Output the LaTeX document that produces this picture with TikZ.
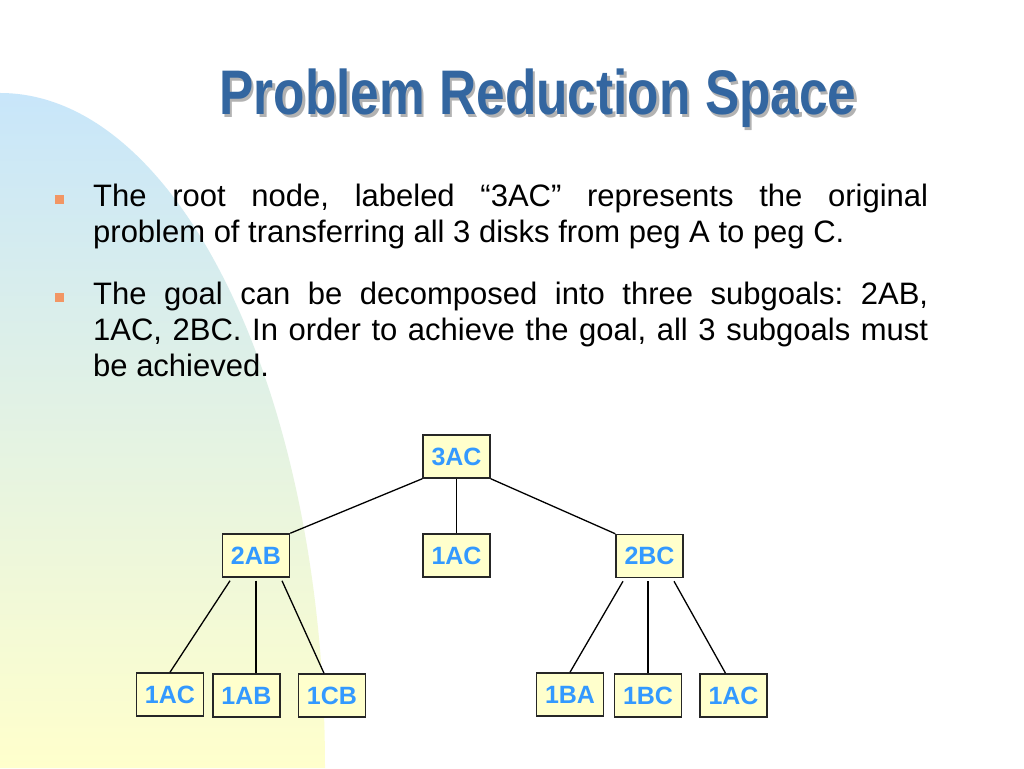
\documentclass[tikz,border=0pt]{standalone}
\usepackage{fontspec}
\setmainfont{Liberation Sans}
\usetikzlibrary{calc}
\definecolor{titleblue}{RGB}{51,102,160}
\definecolor{bgblue}{RGB}{200,230,250}
\definecolor{bgmid}{RGB}{228,242,228}
\definecolor{bgyellow}{RGB}{255,255,204}
\definecolor{boxfill}{RGB}{255,255,204}
\definecolor{boxtext}{RGB}{51,153,255}
\definecolor{bulletorange}{RGB}{242,150,100}
\tikzset{
  treebox/.style={draw=black!85, line width=1.5pt, fill=boxfill, minimum width=67pt,
    minimum height=43pt, inner sep=0pt, text=boxtext, font=\fontsize{25}{28}\selectfont\bfseries},
  link/.style={line width=1.3pt, black},
  bulletsq/.style={fill=bulletorange, minimum size=9pt, inner sep=0pt},
  bodytext/.style={inner sep=0pt, font=\fontsize{31}{36}\selectfont}
}
\begin{document}
\begin{tikzpicture}[x=1pt,y=1pt]
\useasboundingbox (0,0) rectangle (1024,768);
\fill[white] (0,0) rectangle (1024,768);
% background shape
\shade[top color=bgblue, middle color=bgmid, bottom color=bgyellow]
  (0,0) -- (0,675) arc[start angle=90, end angle=0, x radius=325pt, y radius=675pt] -- cycle;
% title
\node[anchor=base, text=black!30, font=\fontsize{63}{70}\selectfont\bfseries] (titleshadow) at (540.5,650.5)
  {\scalebox{0.816}[1]{Problem Reduction Space}};
\node[anchor=base, text=titleblue, font=\fontsize{63}{70}\selectfont\bfseries] (title) at (538,653)
  {\scalebox{0.816}[1]{Problem Reduction Space}};
% bullets
\node[bulletsq] (b1) at (59,568) {};
\node[bulletsq] (b2) at (59,470) {};
\node[bodytext, anchor=base west] (p1) at (93,561)
  {\parbox[t]{835pt}{\fontsize{31}{36}\selectfont\frenchspacing The root node, labeled “3AC” represents the original\linebreak problem of transferring all 3 disks from peg A to peg C.}};
\node[bodytext, anchor=base west] (p2) at (93,463)
  {\parbox[t]{835pt}{\fontsize{31}{36}\selectfont\frenchspacing The goal can be decomposed into three subgoals: 2AB,\linebreak 1AC, 2BC. In order to achieve the goal, all 3 subgoals must\linebreak be achieved.}};
% tree
\node[treebox] (r) at (456.5,311.5) {3AC};
\node[treebox] (a) at (256,212.5) {2AB};
\node[treebox] (b) at (456.5,212.5) {1AC};
\node[treebox] (c) at (649.5,212) {2BC};
\node[treebox] (a1) at (170,73.5) {1AC};
\node[treebox] (a2) at (246.5,72.5) {1AB};
\node[treebox] (a3) at (332,72.5) {1CB};
\node[treebox] (c1) at (570,73.5) {1BA};
\node[treebox] (c2) at (648,72.5) {1BC};
\node[treebox] (c3) at (733.5,72.5) {1AC};
\draw[link] (r.south west) -- (a.north east);
\draw[link] (r.south) -- (b.north);
\draw[link] (r.south east) -- (c.north west);
\draw[link] ([xshift=-26pt,yshift=-3pt]a.south) -- (a1.north);
\draw[link] ([yshift=-3pt]a.south) -- ([xshift=9.5pt]a2.north);
\draw[link] ([xshift=26pt,yshift=-3pt]a.south) -- ([xshift=-8pt]a3.north);
\draw[link] ([xshift=-26.5pt,yshift=-3pt]c.south) -- (c1.north);
\draw[link] ([xshift=-1.5pt,yshift=-3pt]c.south) -- (c2.north);
\draw[link] ([xshift=24.5pt,yshift=-3pt]c.south) -- ([xshift=-8pt]c3.north);
\end{tikzpicture}
\end{document}
